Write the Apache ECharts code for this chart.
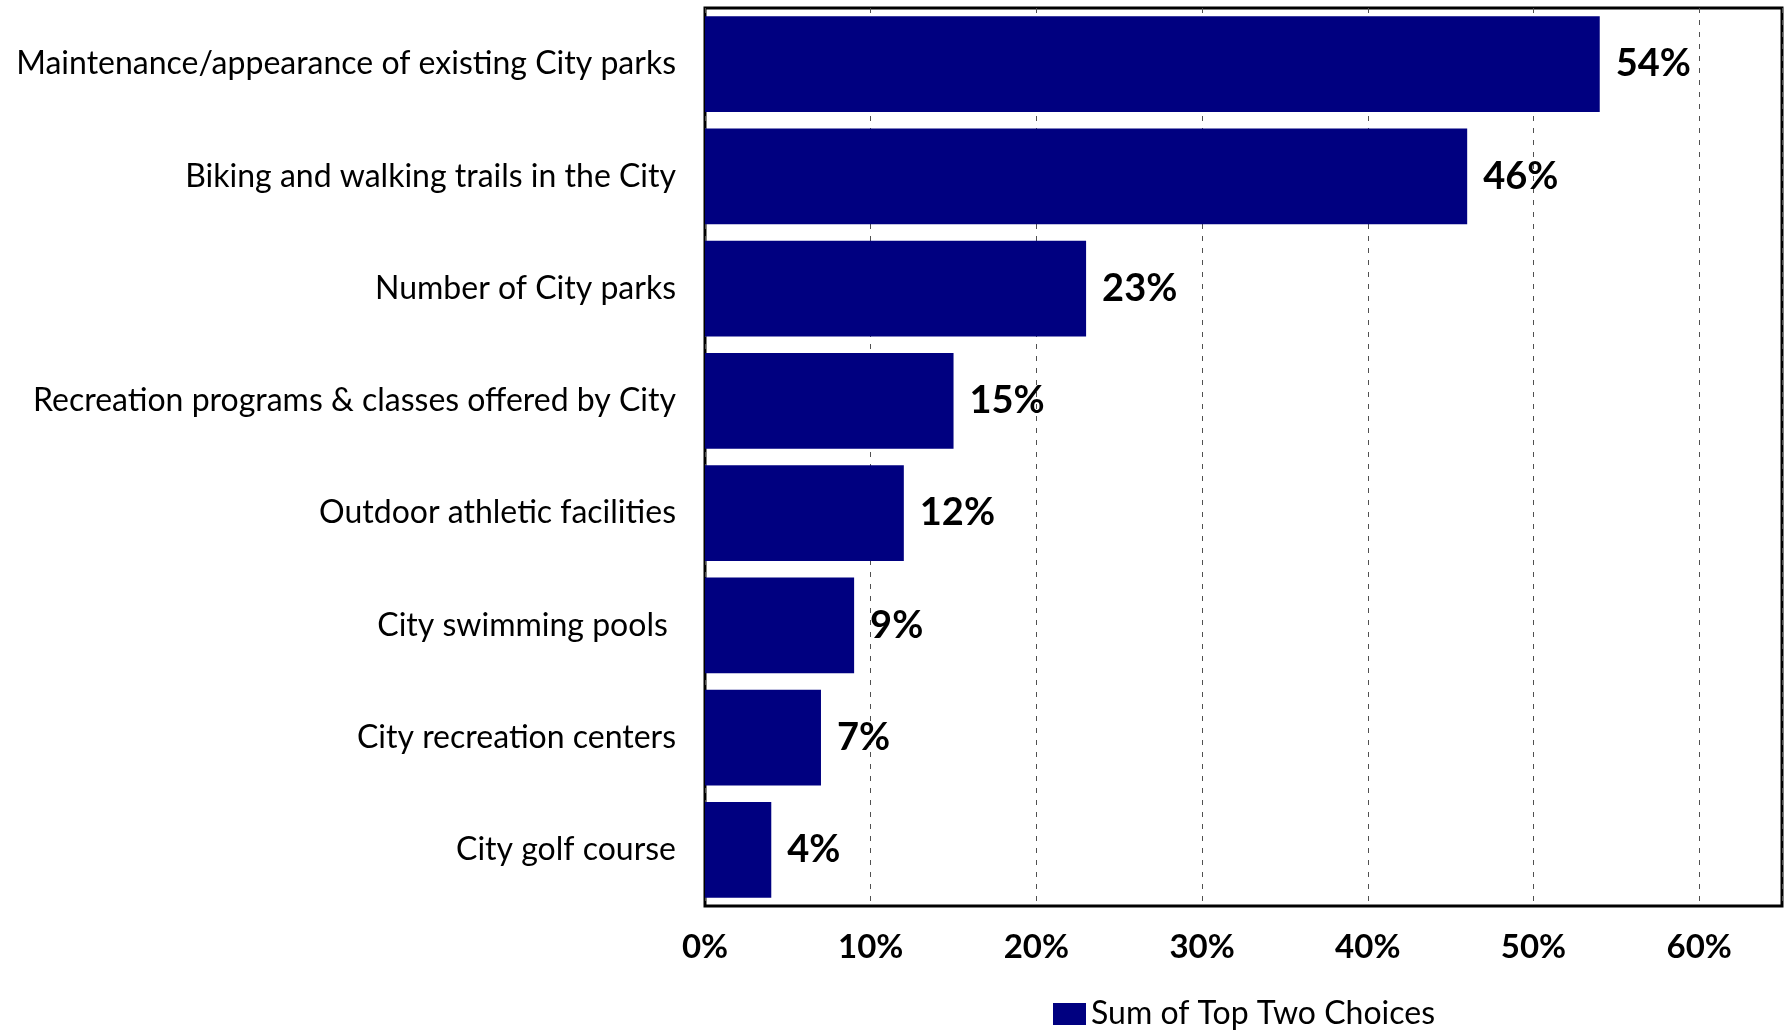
<!DOCTYPE html>
<html>
<head>
<meta charset="utf-8">
<script src="https://cdn.jsdelivr.net/npm/echarts@6/dist/echarts.min.js"></script>
<style>
  html, body { margin: 0; padding: 0; background: #fff; }
  #chart { width: 1785px; height: 1030px; }
</style>
</head>
<body>
<div id="chart"></div>
<script>
// Park & recreation priorities, share naming each item in their top two
const categories = [
  'Maintenance/appearance of existing City parks',
  'Biking and walking trails in the City',
  'Number of City parks',
  'Recreation programs & classes offered by City',
  'Outdoor athletic facilities',
  'City swimming pools ',
  'City recreation centers',
  'City golf course'
];
const topTwoValues = [54, 46, 23, 15, 12, 9, 7, 4];
const seriesName = 'Sum of Top Two Choices';
const axisMin = 0;
const axisMax = 65;
const axisStep = 10;

const FONT = 'Lato';
const chart = echarts.init(document.getElementById('chart'), null, { renderer: 'canvas' });

chart.setOption({
  animation: false,
  backgroundColor: '#ffffff',
  grid: {
    left: 705, right: 3, top: 8, bottom: 124,
    show: true, borderColor: '#000000', borderWidth: 3,
    containLabel: false
  },
  legend: {
    data: [seriesName],
    left: 1053, top: 998,
    padding: 0,
    icon: 'rect',
    itemWidth: 33, itemHeight: 22,
    textStyle: { fontFamily: FONT, fontSize: 32, color: '#000' }
  },
  xAxis: {
    type: 'value',
    min: axisMin, max: axisMax, interval: axisStep,
    axisLine: { show: false },
    axisTick: { show: false },
    splitLine: {
      show: true,
      lineStyle: { color: '#505050', width: 1, type: [5, 7] }
    },
    axisLabel: {
      margin: 25,
      fontFamily: FONT, fontSize: 33, fontWeight: 'bold', color: '#000',
      formatter: v => (v % axisStep === 0 && v <= 60) ? v + '%' : ''
    }
  },
  yAxis: {
    type: 'category',
    data: categories,
    inverse: true,
    axisLine: { show: false },
    axisTick: { show: false },
    splitLine: { show: false },
    axisLabel: {
      margin: 29,
      padding: [5, 0, 0, 0],
      fontFamily: FONT, fontSize: 32, color: '#000'
    }
  },
  series: [{
    name: seriesName,
    type: 'bar',
    data: topTwoValues,
    barCategoryGap: '14.5%',
    itemStyle: { color: '#000080' },
    label: {
      show: true,
      position: 'right',
      distance: 16,
      padding: [5, 0, 0, 0],
      fontFamily: FONT, fontSize: 38, fontWeight: 'bold', color: '#000',
      formatter: p => p.value + '%'
    }
  }]
});
</script>
</body>
</html>
